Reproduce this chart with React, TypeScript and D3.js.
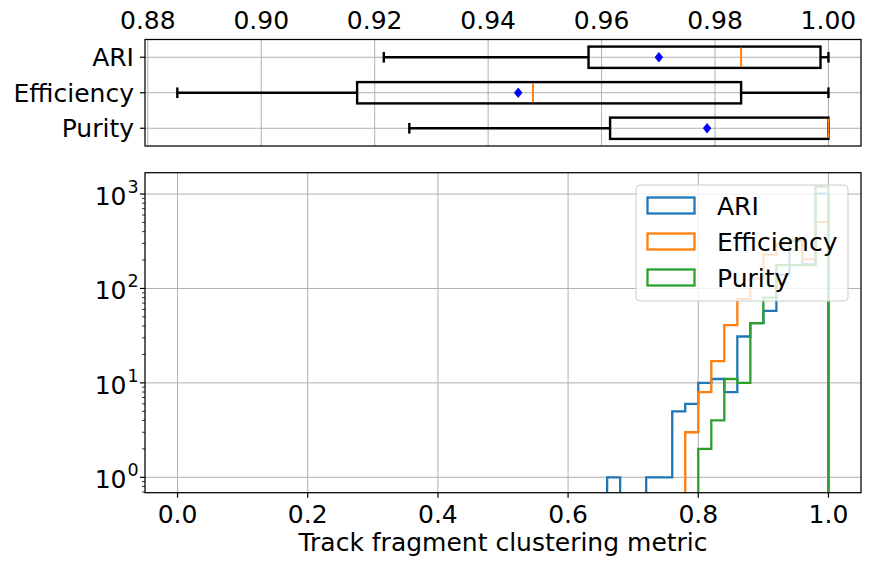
import React from "react";
import * as d3 from "d3";

// ---------- data ----------
const boxLabels = ["ARI", "Efficiency", "Purity"];
const whiskerLow = [0.9216, 0.8852, 0.9261];
const q1 = [0.9577, 0.9169, 0.9615];
const medians = [0.9846, 0.9479, 1.0];
const q3 = [0.9986, 0.9846, 1.0];
const whiskerHigh = [1.0, 1.0, 1.0];
const means = [0.9701, 0.9453, 0.9786];
const boxTicks = [0.88, 0.9, 0.92, 0.94, 0.96, 0.98, 1.0];

const binStarts = [0.66, 0.68, 0.7, 0.72, 0.74, 0.76, 0.78, 0.8, 0.82, 0.84, 0.86, 0.88, 0.9, 0.92, 0.94, 0.96, 0.98];
const binWidth = 0.02;
const ariCounts = [1, 0, 0, 1, 1, 5, 6, 10, 11, 8, 31, 43, 58, 140, 320, 180, 1010];
const effCounts = [0, 0, 0, 0, 0, 0, 3, 8, 17, 41, 77, 127, 228, 300, 330, 205, 503];
const purCounts = [0, 0, 0, 0, 0, 0, 0, 2, 4, 11, 10, 43, 80, 177, 177, 177, 1197];
const seriesNames = ["ARI", "Efficiency", "Purity"];
const seriesColors = ["#1f77b4", "#ff7f0e", "#2ca02c"];
const histTicksX = [0, 0.2, 0.4, 0.6, 0.8, 1.0];
const histTicksY = [1, 10, 100, 1000];
const xLabel = "Track fragment clustering metric";

// ---------- layout ----------
const W = 872, H = 563;
const L = 145, R = 861;
const boxTop = 39.5, boxBottom = 146;
const histTop = 172.7, histBottom = 492.7;
const FONT = "DejaVu Sans, sans-serif";
const FS = 25;
const grid = "#b0b0b0";

export default function App() {
  const xb = d3.scaleLinear().domain([0.8795, 1.00574]).range([L, R]);
  const yb = d3.scaleLinear().domain([0.5, 3.5]).range([boxTop, boxBottom]);
  const xh = d3.scaleLinear().domain([-0.05, 1.05]).range([L, R]);
  const yh = d3.scaleLog().domain([Math.pow(10, -0.163), Math.pow(10, 3.226)]).range([histBottom, histTop]);

  const allCounts = [ariCounts, effCounts, purCounts];
  const far = histBottom + 30;
  const paths = allCounts.map((counts) => {
    const pts: [number, number][] = [];
    pts.push([xh(binStarts[0]), far]);
    counts.forEach((c, i) => {
      const yy = c > 0 ? yh(c) : far;
      pts.push([xh(binStarts[i]), yy]);
      pts.push([xh(binStarts[i] + binWidth), yy]);
    });
    pts.push([xh(binStarts[binStarts.length - 1] + binWidth), far]);
    return d3.line()(pts) as string;
  });

  const minorTicks: number[] = [];
  for (let e = -1; e <= 3; e++) {
    for (let m = 2; m <= 9; m++) {
      const v = m * Math.pow(10, e);
      const p = yh(v);
      if (p >= histTop && p <= histBottom) minorTicks.push(v);
    }
  }

  const boxHalf = yb(1.3) - yb(1);
  const capHalf = boxHalf / 2;

  return (
    <svg width={W} height={H} style={{ position: "absolute", left: 0, top: 0, background: "#fff" }} fontFamily={FONT}>
      <defs>
        <clipPath id="histClip">
          <rect x={L} y={histTop} width={R - L} height={histBottom - histTop} />
        </clipPath>
      </defs>
      <rect x={0} y={0} width={W} height={H} fill="#fff" />

      {/* ---------- box plot panel ---------- */}
      {boxTicks.map((t) => (
        <line key={"bg" + t} x1={xb(t)} x2={xb(t)} y1={boxTop} y2={boxBottom} stroke={grid} strokeWidth={1} />
      ))}
      {boxLabels.map((lab, i) => (
        <line key={"bhg" + lab} x1={L} x2={R} y1={yb(i + 1)} y2={yb(i + 1)} stroke={grid} strokeWidth={1} />
      ))}
      {boxTicks.map((t) => (
        <text key={"bt" + t} x={xb(t)} y={29} textAnchor="middle" fontSize={FS} fill="#000">
          {t.toFixed(2)}
        </text>
      ))}
      {boxLabels.map((lab, i) => (
        <g key={"bl" + lab}>
          <line x1={L - 5} x2={L} y1={yb(i + 1)} y2={yb(i + 1)} stroke="#000" strokeWidth={1.2} />
          <text x={L - 11} y={yb(i + 1)} dy="0.36em" textAnchor="end" fontSize={FS} fill="#000">
            {lab}
          </text>
        </g>
      ))}
      {boxLabels.map((lab, i) => {
        const c = yb(i + 1);
        return (
          <g key={"box" + lab} stroke="#000" strokeWidth={2.4} fill="none">
            <line x1={xb(whiskerLow[i])} x2={xb(q1[i])} y1={c} y2={c} />
            <line x1={xb(q3[i])} x2={xb(whiskerHigh[i])} y1={c} y2={c} />
            <line x1={xb(whiskerLow[i])} x2={xb(whiskerLow[i])} y1={c - capHalf} y2={c + capHalf} />
            <line x1={xb(whiskerHigh[i])} x2={xb(whiskerHigh[i])} y1={c - capHalf} y2={c + capHalf} />
            <rect x={xb(q1[i])} y={c - boxHalf} width={xb(q3[i]) - xb(q1[i])} height={boxHalf * 2} />
            <line x1={xb(medians[i])} x2={xb(medians[i])} y1={c - boxHalf + 1} y2={c + boxHalf - 1} stroke="#ff7f0e" strokeWidth={2} />
            <path
              d={`M${xb(means[i])},${c - 4.8} L${xb(means[i]) + 3.8},${c} L${xb(means[i])},${c + 4.8} L${xb(means[i]) - 3.8},${c} Z`}
              fill="#0000ff"
              stroke="#0000ff"
              strokeWidth={0.8}
            />
          </g>
        );
      })}
      <rect x={L} y={boxTop} width={R - L} height={boxBottom - boxTop} fill="none" stroke="#000" strokeWidth={1.25} />

      {/* ---------- histogram panel ---------- */}
      {histTicksX.map((t) => (
        <line key={"hg" + t} x1={xh(t)} x2={xh(t)} y1={histTop} y2={histBottom} stroke={grid} strokeWidth={1} />
      ))}
      {histTicksY.map((t) => (
        <line key={"hgy" + t} x1={L} x2={R} y1={yh(t)} y2={yh(t)} stroke={grid} strokeWidth={1} />
      ))}
      <g clipPath="url(#histClip)">
        {paths.map((d, i) => (
          <path key={"hp" + i} d={d} fill="none" stroke={seriesColors[i]} strokeWidth={2.3} />
        ))}
      </g>
      {histTicksX.map((t) => (
        <g key={"hx" + t}>
          <line x1={xh(t)} x2={xh(t)} y1={histBottom} y2={histBottom + 5} stroke="#000" strokeWidth={1.2} />
          <text x={xh(t)} y={histBottom + 30} textAnchor="middle" fontSize={FS} fill="#000">
            {t.toFixed(1)}
          </text>
        </g>
      ))}
      {histTicksY.map((t) => {
        const p = yh(t);
        const e = Math.round(Math.log10(t));
        return (
          <g key={"hy" + t}>
            <line x1={L - 5} x2={L} y1={p} y2={p} stroke="#000" strokeWidth={1.2} />
            <text x={126.5} y={p + 11} textAnchor="end" fontSize={FS} fill="#000">10</text>
            <text x={127.5} y={p - 1} textAnchor="start" fontSize={17.5} fill="#000">{e}</text>
          </g>
        );
      })}
      {minorTicks.map((t) => (
        <line key={"mt" + t} x1={L - 3} x2={L} y1={yh(t)} y2={yh(t)} stroke="#000" strokeWidth={0.8} />
      ))}
      <text x={(L + R) / 2} y={551} textAnchor="middle" fontSize={FS} fill="#000">{xLabel}</text>

      {/* legend */}
      <g>
        <rect x={636} y={185} width={212} height={116} rx={4} fill="#fff" fillOpacity={0.8} stroke="#cccccc" strokeWidth={1} />
        {seriesNames.map((n, i) => (
          <g key={"lg" + n}>
            <rect x={647.5} y={197.5 + i * 36} width={47} height={16} fill="none" stroke={seriesColors[i]} strokeWidth={2.3} />
            <text x={717} y={214.5 + i * 36} fontSize={FS} fill="#000">{n}</text>
          </g>
        ))}
      </g>
      <rect x={L} y={histTop} width={R - L} height={histBottom - histTop} fill="none" stroke="#000" strokeWidth={1.25} />
    </svg>
  );
}
